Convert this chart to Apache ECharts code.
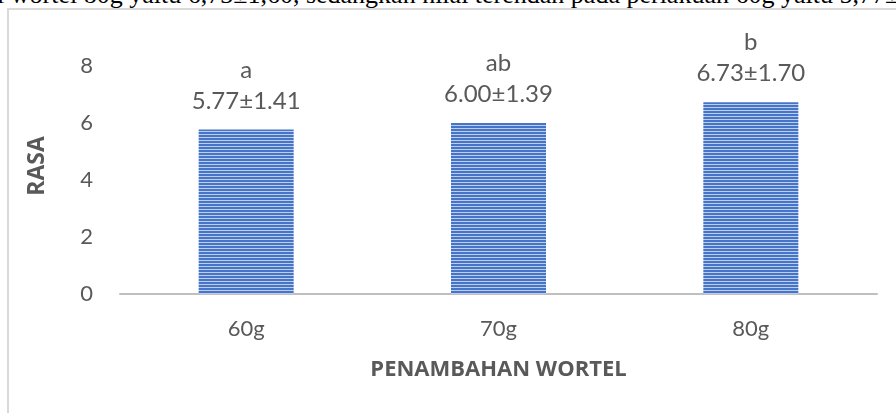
<!DOCTYPE html>
<html>
<head>
<meta charset="utf-8">
<script src="https://cdn.jsdelivr.net/npm/echarts@6/dist/echarts.min.js"></script>
<style>
html,body{margin:0;padding:0;background:#fff;overflow:hidden;}
#wrap{position:relative;width:896px;height:413px;overflow:hidden;}
#toptext{position:absolute;left:-3px;top:-20px;font-family:"Liberation Serif",serif;font-size:26px;line-height:30px;color:#000;white-space:nowrap;}
#box{position:absolute;left:7px;top:8px;width:1000px;height:600px;border:2px solid #d9d9d9;box-sizing:border-box;}
#chart{position:absolute;left:0;top:0;width:896px;height:413px;}
</style>
</head>
<body>
<div id="wrap">
<div id="toptext">l wortel 80g yaitu 6,73±1,60, sedangkan nilai terendah pada perlakuan 60g yaitu 5,77±1,41</div>
<div id="box"></div>
<div id="chart"></div>
</div>
<script>
const categories = ['60g', '70g', '80g'];
const values = [5.77, 6.00, 6.73];
const sds = ['1.41', '1.39', '1.70'];
const letters = ['a', 'ab', 'b'];
const yTicks = [0, 2, 4, 6, 8];

// striped fill pattern
const pc = document.createElement('canvas');
pc.width = 4; pc.height = 3;
const px = pc.getContext('2d');
px.fillStyle = '#4674c6'; px.fillRect(0, 0, 4, 2);
px.fillStyle = '#bccdee'; px.fillRect(0, 2, 4, 1);

const chart = echarts.init(document.getElementById('chart'), null, {renderer: 'canvas'});
const font = 'Lato, "Open Sans", sans-serif';
const nameFont = '"Open Sans", Lato, sans-serif';
chart.setOption({
  animation: false,
  grid: {left: 120, right: 19, top: 66, bottom: 119},
  xAxis: {
    type: 'category',
    data: categories,
    axisLine: {lineStyle: {color: '#bfbfbf', width: 2}},
    axisTick: {show: false},
    axisLabel: {color: '#595959', fontSize: 22, fontFamily: font, margin: 24},
    name: 'PENAMBAHAN WORTEL',
    nameLocation: 'middle',
    nameGap: 65,
    nameTextStyle: {color: '#595959', fontSize: 22, fontWeight: 'bold', fontFamily: nameFont}
  },
  yAxis: {
    type: 'value',
    min: yTicks[0],
    max: yTicks[yTicks.length - 1],
    interval: 2,
    splitLine: {show: false},
    axisLine: {show: false},
    axisTick: {show: false},
    axisLabel: {color: '#595959', fontSize: 22, fontFamily: font, margin: 27}
  },
  graphic: [{
    type: 'text',
    x: 37, y: 166,
    rotation: Math.PI / 2,
    style: {text: 'RASA', fill: '#595959', fontSize: 23, fontWeight: 'bold', fontFamily: nameFont, align: 'center', verticalAlign: 'middle'}
  }],
  series: [{
    type: 'bar',
    data: values,
    barWidth: 95,
    itemStyle: {color: {image: pc, repeat: 'repeat'}},
    label: {
      show: true,
      position: 'top',
      distance: 13,
      color: '#595959',
      fontSize: 24,
      lineHeight: 31,
      fontFamily: font,
      formatter: p => letters[p.dataIndex] + '\n' + values[p.dataIndex].toFixed(2) + '±' + sds[p.dataIndex]
    }
  }]
});
</script>
</body>
</html>
